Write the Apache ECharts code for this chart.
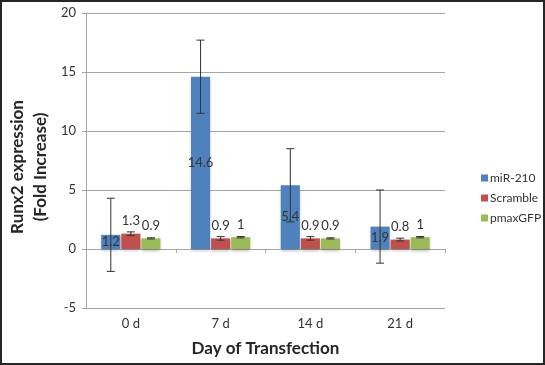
<!DOCTYPE html>
<html>
<head>
<meta charset="utf-8">
<script src="https://cdn.jsdelivr.net/npm/echarts@6/dist/echarts.min.js"></script>
<style>html,body{margin:0;padding:0;background:#fff}#c{width:545px;height:365px}</style>
</head>
<body>
<div id="c"></div>
<script>
var categories = ['0 d', '7 d', '14 d', '21 d'];
var seriesNames = ['miR-210', 'Scramble', 'pmaxGFP'];
var mir210 = [1.2, 14.6, 5.4, 1.9];
var scramble = [1.3, 0.9, 0.9, 0.8];
var pmaxGFP = [0.9, 1, 0.9, 1];
var mir210Err = [3.1, 3.1, 3.1, 3.1];
var scrambleErr = [0.15, 0.15, 0.15, 0.12];
var pmaxGFPErr = [0.05, 0.06, 0.05, 0.06];
var yTicks = [-5, 0, 5, 10, 15, 20];

var values = [mir210, scramble, pmaxGFP];
var errors = [mir210Err, scrambleErr, pmaxGFPErr];
var colors = ['#4F81BD', '#C0504D', '#9BBB59'];
var FONT = 'Lato';
var CAT_GAP = 0.34, BAR_GAP = 0.05;

var chart = echarts.init(document.getElementById('c'));

var series = [];
seriesNames.forEach(function (name, si) {
  series.push({
    name: name,
    type: 'bar',
    data: values[si],
    barCategoryGap: (CAT_GAP * 100) + '%',
    barGap: (BAR_GAP * 100) + '%',
    itemStyle: {
      color: colors[si],
      shadowColor: 'rgba(0,0,0,0.25)',
      shadowBlur: 3,
      shadowOffsetY: 2
    },
    label: {
      show: true,
      position: si === 0 ? 'inside' : 'top',
      distance: 6,
      color: '#333',
      fontFamily: FONT,
      fontSize: 13
    },
    z: 2
  });
});

seriesNames.forEach(function (name, si) {
  var errData = values[si].map(function (v, i) { return [i, v - errors[si][i], v + errors[si][i]]; });
  series.push({
    type: 'custom',
    name: name + ' err',
    data: errData,
    z: 5,
    silent: true,
    tooltip: { show: false },
    renderItem: function (params, api) {
      var idx = api.value(0);
      var lo = api.coord([idx, api.value(1)]);
      var hi = api.coord([idx, api.value(2)]);
      var band = api.size([1, 0])[0];
      var usable = band * (1 - CAT_GAP);
      var w = usable / (3 + 2 * BAR_GAP);
      var x = lo[0] + (si - 1) * w * (1 + BAR_GAP);
      var cap = 4;
      var st = { stroke: '#333', lineWidth: 1 };
      return {
        type: 'group',
        children: [
          { type: 'line', shape: { x1: x, y1: hi[1], x2: x, y2: lo[1] }, style: st },
          { type: 'line', shape: { x1: x - cap, y1: hi[1], x2: x + cap, y2: hi[1] }, style: st },
          { type: 'line', shape: { x1: x - cap, y1: lo[1], x2: x + cap, y2: lo[1] }, style: st }
        ]
      };
    }
  });
});

chart.setOption({
  animation: false,
  textStyle: { fontFamily: FONT },
  grid: { left: 86, right: 100, top: 13, bottom: 57, containLabel: false, outerBoundsMode: 'none' },
  legend: {
    data: seriesNames,
    orient: 'vertical',
    left: 476,
    top: 167,
    itemWidth: 7,
    itemHeight: 7,
    itemGap: 8,
    icon: 'rect',
    textStyle: { color: '#333', fontSize: 12, fontFamily: FONT, padding: [0, 0, 0, -3] }
  },
  xAxis: {
    type: 'category',
    data: categories,
    axisLine: { show: true, onZero: true, lineStyle: { color: '#A6A6A6' } },
    axisTick: { show: true, length: 4, lineStyle: { color: '#A6A6A6' } },
    axisLabel: { color: '#333', fontSize: 13, fontFamily: FONT, margin: 9 },
    name: 'Day of Transfection',
    nameLocation: 'middle',
    nameGap: 0,
    nameTextStyle: { fontSize: 17, fontWeight: 'bold', color: '#262626', fontFamily: FONT, padding: [32, 0, 0, 0] }
  },
  yAxis: {
    type: 'value',
    min: yTicks[0],
    max: yTicks[yTicks.length - 1],
    interval: 5,
    axisLine: { show: true, lineStyle: { color: '#A6A6A6' } },
    axisTick: { show: true, length: 4, lineStyle: { color: '#A6A6A6' } },
    axisLabel: { color: '#333', fontSize: 13, fontFamily: FONT, margin: 10 },
    splitLine: { lineStyle: { color: '#A6A6A6' } }
  },
  graphic: [
    {
      type: 'text',
      x: 29, y: 167,
      rotation: Math.PI / 2,
      style: {
        text: 'Runx2 expression\n(Fold Increase)',
        fontFamily: FONT,
        fontSize: 17,
        fontWeight: 'bold',
        fill: '#262626',
        textAlign: 'center',
        textVerticalAlign: 'middle',
        lineHeight: 23
      }
    },
    {
      type: 'rect',
      shape: { x: 1, y: 1, width: 543, height: 363 },
      style: { fill: 'none', stroke: '#262626', lineWidth: 2 },
      silent: true
    }
  ],
  series: series
});
</script>
</body>
</html>
